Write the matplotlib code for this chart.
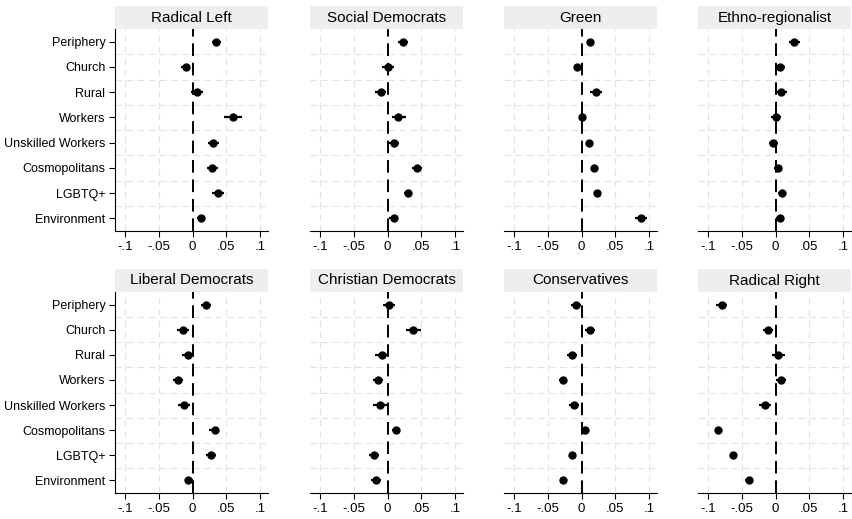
import matplotlib.pyplot as plt
import numpy as np
from matplotlib.patches import Rectangle

plt.rcParams['font.family'] = ['Liberation Sans', 'DejaVu Sans']

categories = ['Periphery', 'Church', 'Rural', 'Workers', 'Unskilled Workers',
              'Cosmopolitans', 'LGBTQ+', 'Environment']
parties = ['Radical Left', 'Social Democrats', 'Green', 'Ethno-regionalist',
           'Liberal Democrats', 'Christian Democrats', 'Conservatives', 'Radical Right']

# point estimates, lower and upper bounds, one row per party
radical_left = [0.035, -0.010, 0.006, 0.060, 0.031, 0.029, 0.038, 0.012]
radical_left_lo = [0.029, -0.017, -0.002, 0.046, 0.023, 0.022, 0.029, 0.006]
radical_left_hi = [0.042, -0.004, 0.015, 0.073, 0.040, 0.038, 0.046, 0.019]

social_dem = [0.023, 0.000, -0.010, 0.016, 0.009, 0.044, 0.030, 0.009]
social_dem_lo = [0.015, -0.008, -0.018, 0.007, 0.001, 0.036, 0.024, 0.002]
social_dem_hi = [0.030, 0.009, -0.002, 0.028, 0.017, 0.051, 0.037, 0.016]

green = [0.012, -0.006, 0.022, 0.001, 0.011, 0.019, 0.023, 0.088]
green_lo = [0.008, -0.010, 0.012, -0.002, 0.007, 0.014, 0.018, 0.079]
green_hi = [0.017, -0.002, 0.030, 0.004, 0.015, 0.024, 0.027, 0.097]

ethno = [0.028, 0.006, 0.008, 0.000, -0.003, 0.003, 0.010, 0.006]
ethno_lo = [0.020, -0.001, -0.001, -0.007, -0.010, -0.002, 0.004, 0.000]
ethno_hi = [0.037, 0.014, 0.017, 0.008, 0.004, 0.008, 0.016, 0.011]

liberal = [0.020, -0.014, -0.007, -0.022, -0.013, 0.033, 0.028, -0.006]
liberal_lo = [0.012, -0.023, -0.016, -0.029, -0.022, 0.025, 0.020, -0.011]
liberal_hi = [0.027, -0.005, 0.001, -0.014, -0.004, 0.040, 0.035, 0.000]

christian = [0.002, 0.038, -0.008, -0.014, -0.011, 0.012, -0.020, -0.017]
christian_lo = [-0.006, 0.028, -0.018, -0.022, -0.021, 0.006, -0.027, -0.024]
christian_hi = [0.011, 0.049, 0.002, -0.006, -0.001, 0.019, -0.013, -0.010]

conservative = [-0.008, 0.012, -0.014, -0.028, -0.011, 0.005, -0.014, -0.027]
conservative_lo = [-0.015, 0.005, -0.022, -0.033, -0.019, 0.001, -0.018, -0.032]
conservative_hi = [-0.001, 0.020, -0.006, -0.022, -0.003, 0.009, -0.009, -0.022]

radical_right = [-0.080, -0.011, 0.004, 0.008, -0.015, -0.086, -0.063, -0.040]
radical_right_lo = [-0.088, -0.018, -0.005, 0.000, -0.024, -0.090, -0.068, -0.045]
radical_right_hi = [-0.072, -0.003, 0.014, 0.016, -0.007, -0.081, -0.058, -0.035]

estimates = [radical_left, social_dem, green, ethno, liberal, christian, conservative, radical_right]
lows = [radical_left_lo, social_dem_lo, green_lo, ethno_lo, liberal_lo, christian_lo, conservative_lo, radical_right_lo]
highs = [radical_left_hi, social_dem_hi, green_hi, ethno_hi, liberal_hi, christian_hi, conservative_hi, radical_right_hi]

xticks = [-0.1, -0.05, 0, 0.05, 0.1]
xtick_labels = ['-.1', '-.05', '0', '.05', '.1']

fig = plt.figure(figsize=(8.52, 5.19), dpi=100)
lefts = [115, 310, 504, 698]
width = 153
rows = [(29, 231), (292, 493)]

ypos = np.arange(1, len(categories) + 1)
for i, party in enumerate(parties):
    r, c = divmod(i, 4)
    top, bot = rows[r]
    ax = fig.add_axes([lefts[c] / 852, 1 - bot / 519, width / 852, (bot - top) / 519])
    ax.set_xlim(-0.115, 0.112)
    ax.set_ylim(8.5, 0.5)

    # grid
    for y in np.arange(1.5, 8.5, 1):
        ax.axhline(y, color='#e2e2e2', lw=0.8, ls=(0, (6, 4)), zorder=0)
    for x in [-0.1, -0.05, 0.05, 0.1]:
        ax.axvline(x, color='#e2e2e2', lw=0.8, ls=(0, (6, 4)), zorder=0)
    ax.axvline(0, color='black', lw=1.4, ls=(0, (6.5, 3.5)), zorder=1)

    est = np.array(estimates[i])
    ax.hlines(ypos, lows[i], highs[i], color='black', lw=1.6, zorder=2)
    ax.plot(est, ypos, 'o', color='black', ms=5, zorder=3)

    ax.set_xticks(xticks)
    ax.set_xticklabels(xtick_labels, fontsize=9.5)
    ax.tick_params(axis='x', length=4, width=0.8, direction='out', pad=3)
    for s in ['top', 'right']:
        ax.spines[s].set_visible(False)
    ax.spines['bottom'].set_linewidth(0.8)
    if c == 0:
        ax.set_yticks(ypos)
        ax.set_yticklabels(categories, fontsize=9)
        ax.tick_params(axis='y', length=4, width=0.8, pad=3)
        ax.spines['left'].set_linewidth(0.8)
    else:
        ax.set_yticks([])
        ax.spines['left'].set_visible(False)

    band_h = 23 / (bot - top)
    ax.add_patch(Rectangle((0, 1.0), 1, band_h, transform=ax.transAxes,
                           facecolor='#eeeeee', edgecolor='none', clip_on=False))
    ax.text(0.5, 1 + band_h / 2, party, transform=ax.transAxes, ha='center',
            va='center', fontsize=11)

fig.savefig('out.png', dpi=100)
